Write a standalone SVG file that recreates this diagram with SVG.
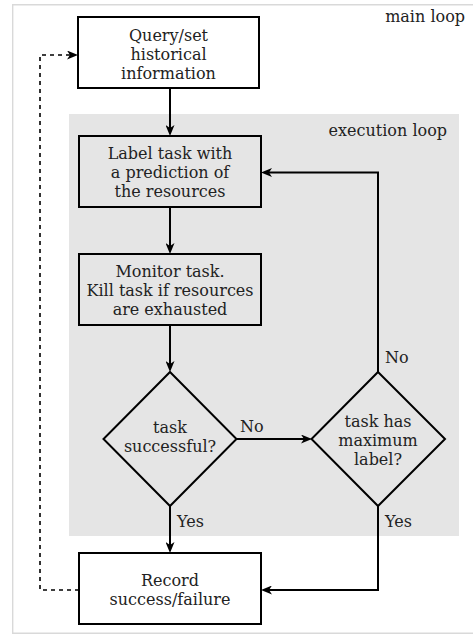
<svg xmlns="http://www.w3.org/2000/svg" width="473" height="635" viewBox="0 0 473 635">
<style>
text{font-family:"DejaVu Serif",serif;font-size:16px;fill:#222;}
.c{text-anchor:middle;}
.node{fill:none;stroke:#000;stroke-width:2;}
.nodew{fill:#fff;stroke:#000;stroke-width:2;}
.edge{fill:none;stroke:#000;stroke-width:2;}
.dot{fill:none;stroke:#000;stroke-width:1.6;stroke-dasharray:4 4;}
</style>
<defs>
<marker id="ah" viewBox="0 0 11 9" refX="7" refY="4.5" markerWidth="11" markerHeight="9" markerUnits="userSpaceOnUse" orient="auto">
<path d="M11,4.5 L0,0 L3,4.5 L0,9 Z" fill="#000"/>
</marker>
</defs>
<rect width="473" height="635" fill="#fff"/>
<g id="main-loop">
<path d="M480,4.7 H12.7 V633.3 H480" fill="none" stroke="#d9d9d9" stroke-width="1.4"/>
<text x="465" y="22" text-anchor="end">main loop</text>
</g>
<g id="execution-loop">
<rect x="69" y="114" width="390" height="422" fill="#e5e5e5"/>
<text x="447" y="136" text-anchor="end">execution loop</text>
</g>
<g id="connectors">
<line class="edge" x1="170" y1="88" x2="170" y2="132" marker-end="url(#ah)"/>
<line class="edge" x1="170" y1="207" x2="170" y2="250" marker-end="url(#ah)"/>
<line class="edge" x1="170" y1="325" x2="170" y2="368" marker-end="url(#ah)"/>
<line class="edge" x1="236" y1="439" x2="308" y2="439" marker-end="url(#ah)"/>
<polyline class="edge" points="378,372 378,172.5 265,172.5" marker-end="url(#ah)"/>
<line class="edge" x1="170" y1="506" x2="170" y2="549" marker-end="url(#ah)"/>
<polyline class="edge" points="378,506 378,590 265,590" marker-end="url(#ah)"/>
<polyline class="dot" points="79,590 40,590 40,55 74,55" marker-end="url(#ah)"/>
<text x="240" y="432">No</text>
<text x="385" y="363">No</text>
<text x="177" y="527">Yes</text>
<text x="385" y="527">Yes</text>
</g>
<g id="query">
<rect class="nodew" x="78" y="17" width="181" height="71"/>
<text class="c" x="168.5" y="41">Query/set</text>
<text class="c" x="168.5" y="60">historical</text>
<text class="c" x="168.5" y="79">information</text>
</g>
<g id="label-task">
<rect class="node" x="79" y="136" width="182" height="71"/>
<text class="c" x="170" y="159">Label task with</text>
<text class="c" x="170" y="178">a prediction of</text>
<text class="c" x="170" y="197">the resources</text>
</g>
<g id="monitor">
<rect class="node" x="79" y="254" width="182" height="71"/>
<text class="c" x="170" y="277">Monitor task.</text>
<text class="c" x="170" y="296">Kill task if resources</text>
<text class="c" x="170" y="315">are exhausted</text>
</g>
<g id="task-successful">
<polygon class="node" points="170,372 236.5,439 170,506 103.5,439"/>
<text class="c" x="170" y="432.5">task</text>
<text class="c" x="170" y="451.5">successful?</text>
</g>
<g id="task-max-label">
<polygon class="node" points="378,372 445,439 378,506 311.5,439"/>
<text class="c" x="378" y="427">task has</text>
<text class="c" x="378" y="446">maximum</text>
<text class="c" x="378" y="465">label?</text>
</g>
<g id="record">
<rect class="nodew" x="79" y="553" width="182" height="71"/>
<text class="c" x="170" y="586">Record</text>
<text class="c" x="170" y="605">success/failure</text>
</g>
</svg>
